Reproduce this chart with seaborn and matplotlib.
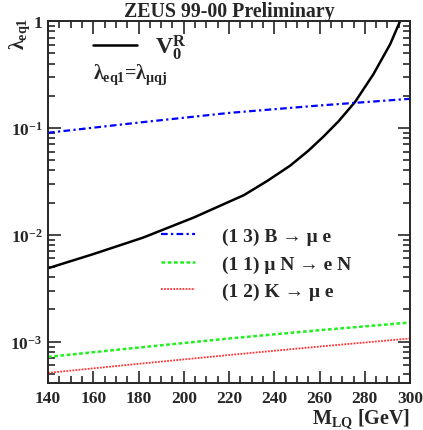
import numpy as np
import pandas as pd
import matplotlib
matplotlib.use("Agg")
import matplotlib.pyplot as plt
import seaborn as sns
from matplotlib.ticker import FixedLocator, LogLocator, MultipleLocator, NullFormatter, FixedFormatter

# === DADOS ===
m_v0 = [140, 160, 182, 204.5, 226.6, 237, 247, 255, 261.7, 268.5, 275.7, 283.8, 291.2, 295.6]
lam_v0 = [0.00486, 0.00659, 0.0094, 0.01452, 0.0235, 0.032, 0.0443, 0.061, 0.0828, 0.116, 0.175, 0.318, 0.607, 1.0]

m_lin = [140, 180, 220, 260, 300]
lam_b_mue = [0.090, 0.112, 0.138, 0.162, 0.187]
lam_mun_en = [0.00072, 0.00088, 0.00107, 0.00128, 0.00151]
lam_k_mue = [0.00051, 0.00062, 0.00075, 0.00090, 0.00107]

x_ticks = [140, 160, 180, 200, 220, 240, 260, 280, 300]
y_ticks = [1e-3, 1e-2, 1e-1, 1]
y_tick_lbl = ["$10^{-3}$", "$10^{-2}$", "$10^{-1}$", "1"]

lbl_b = "(1 3) B → μ e"
lbl_mun = "(1 1) μ N → e N"
lbl_k = "(1 2) K → μ e"

sns.set_style("ticks")
plt.rcParams["font.family"] = ["Liberation Serif", "DejaVu Serif"]
plt.rcParams["font.weight"] = "bold"
plt.rcParams["axes.labelweight"] = "bold"
plt.rcParams["mathtext.fontset"] = "custom"
plt.rcParams["mathtext.rm"] = "Liberation Serif:bold"
plt.rcParams["mathtext.bf"] = "Liberation Serif:bold"
plt.rcParams["mathtext.it"] = "Liberation Serif:bold"

fig = plt.figure(figsize=(4.23, 4.31), dpi=100)
ax = fig.add_axes([0.1135, 0.109, 0.856, 0.840])

df_v0 = pd.DataFrame({"m": m_v0, "lam": lam_v0})
sns.lineplot(data=df_v0, x="m", y="lam", ax=ax, color="black", lw=1.8)
h_v0 = ax.lines[-1]

sns.lineplot(x=m_lin, y=lam_b_mue, ax=ax, color="blue", lw=1.6)
ax.lines[-1].set_dashes([3, 1.5, 1, 1.5])
h_b = ax.lines[-1]
sns.lineplot(x=m_lin, y=lam_mun_en, ax=ax, color="#22ee22", lw=1.8)
ax.lines[-1].set_dashes([1.5, 1])
h_mun = ax.lines[-1]
sns.lineplot(x=m_lin, y=lam_k_mue, ax=ax, color="#ff3333", lw=1.3)
ax.lines[-1].set_dashes([1, 0.7])
h_k = ax.lines[-1]

ax.set_yscale("log")
ax.set_xlim(140, 300)
ax.set_ylim(4.1e-4, 1.0)

# ticks estilo ROOT
ax.xaxis.set_major_locator(FixedLocator(x_ticks))
ax.xaxis.set_major_formatter(FixedFormatter([str(v) for v in x_ticks]))
ax.xaxis.set_minor_locator(MultipleLocator(5))
ax.yaxis.set_major_locator(FixedLocator(y_ticks))
ax.yaxis.set_major_formatter(FixedFormatter(y_tick_lbl))
ax.yaxis.set_minor_locator(LogLocator(base=10, subs=np.arange(2, 10)))
ax.yaxis.set_minor_formatter(NullFormatter())
ax.tick_params(which="both", direction="in", top=True, right=True, width=1.2)
ax.tick_params(which="major", length=9, labelsize=12.5)
ax.tick_params(which="minor", length=5)
ax.tick_params(axis="x", pad=5)
ax.tick_params(axis="y", pad=4)
for s in ax.spines.values():
    s.set_linewidth(1.4)

ax.set_xlabel(r"$\mathregular{M_{LQ}}$ [GeV]", loc="right", fontsize=14.5, labelpad=0)
ax.set_ylabel(r"$\lambda_{eq1}$", fontsize=14.5)
ax.yaxis.set_label_coords(-0.077, 1.011)
ax.yaxis.label.set_va("center")
ax.yaxis.label.set_ha("right")
ax.set_title("ZEUS 99-00 Preliminary", fontsize=14.3, fontweight="bold", pad=3)

leg1 = ax.legend([h_v0], [r"$\mathregular{V_0^R}$"], loc="center left",
                 bbox_to_anchor=(0.124, 0.93), frameon=False, fontsize=17,
                 handlelength=1.86, handletextpad=0.76, borderpad=0, borderaxespad=0)
ax.add_artist(leg1)
ax.text(0.125, 0.854, r"$\lambda_{eq1}$=$\lambda_{\mu qj}$", transform=ax.transAxes,
        fontsize=14.5, va="center")

ax.legend([h_b, h_mun, h_k], [lbl_b, lbl_mun, lbl_k], loc="upper left",
          bbox_to_anchor=(0.265, 0.478), frameon=False, fontsize=14,
          handlelength=1.7, handletextpad=1.4, labelspacing=0.5)

fig.savefig("out.png", dpi=100)
